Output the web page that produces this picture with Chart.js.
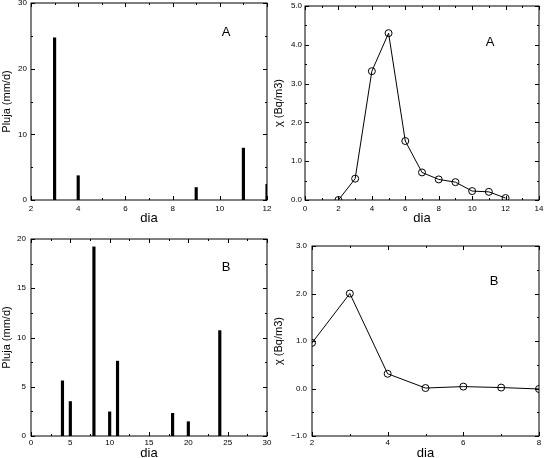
<!DOCTYPE html>
<html>
<head>
<meta charset="utf-8">
<script src="https://cdn.jsdelivr.net/npm/chart.js@4"></script>
<style>
  body { margin: 0; background: #fff; }
  .panel { position: absolute; width: 272px; height: 229px; }
</style>
</head>
<body>
<div class="panel" style="left:0;top:0"><canvas id="rainA"></canvas></div>
<div class="panel" style="left:272px;top:0"><canvas id="concA"></canvas></div>
<div class="panel" style="left:0;top:229px"><canvas id="rainB"></canvas></div>
<div class="panel" style="left:272px;top:229px"><canvas id="concB"></canvas></div>
<script>
// Series A
const rainDaysA = [3, 4, 9, 11, 12];
const rainA = [24.7, 3.7, 1.9, 7.9, 2.4];
const concDaysA = [2, 3, 4, 5, 6, 7, 8, 9, 10, 11, 12];
const concA = [0.0, 0.55, 3.32, 4.30, 1.52, 0.71, 0.53, 0.46, 0.23, 0.21, 0.05];

// Series B
const rainDaysB = [4, 5, 8, 10, 11, 18, 20, 24];
const rainB = [5.6, 3.5, 19.2, 2.45, 7.6, 2.3, 1.45, 10.7];
const concDaysB = [2, 3, 4, 5, 6, 7, 8];
const concB = [0.96, 2.0, 0.31, 0.01, 0.04, 0.02, -0.01];

const panelLabels = ['A', 'A', 'B', 'B'];

Chart.defaults.font.family = '"Liberation Sans", Arial, sans-serif';
Chart.defaults.color = '#000';
Chart.defaults.animation = false;

// inward ticks on all four sides, plus the panel letter
const frameTicks = {
  id: 'frameTicks',
  afterDraw(chart, args, opts) {
    const ctx = chart.ctx, a = chart.chartArea;
    const xs = chart.scales.x, ys = chart.scales.y;
    ctx.save();
    ctx.strokeStyle = '#000';
    ctx.lineWidth = 1;
    ctx.strokeRect(a.left, a.top, a.right - a.left, a.bottom - a.top);
    ctx.beginPath();
    for (let v = xs.min; v <= xs.max + 1e-9; v += opts.xStep / 2) {
      const p = Math.round(xs.getPixelForValue(v)) + 0.5;
      const len = Math.abs((v - xs.min) / opts.xStep % 1) < 1e-6 ? 4 : 2;
      ctx.moveTo(p, a.bottom); ctx.lineTo(p, a.bottom - len);
      ctx.moveTo(p, a.top); ctx.lineTo(p, a.top + len);
    }
    for (let v = ys.min; v <= ys.max + 1e-9; v += opts.yStep / 2) {
      const p = Math.round(ys.getPixelForValue(v)) + 0.5;
      const len = Math.abs((v - ys.min) / opts.yStep % 1) < 1e-6 ? 4 : 2;
      ctx.moveTo(a.left, p); ctx.lineTo(a.left + len, p);
      ctx.moveTo(a.right, p); ctx.lineTo(a.right - len, p);
    }
    ctx.stroke();
    ctx.font = '13px "Liberation Sans", Arial, sans-serif';
    ctx.fillStyle = '#000';
    ctx.textAlign = 'center';
    ctx.textBaseline = 'middle';
    ctx.fillText(opts.letter, opts.letterX, opts.letterY);
    ctx.restore();
  }
};

function makeChart(id, cfg) {
  const xAxis = {
    type: 'linear', min: cfg.xMin, max: cfg.xMax, offset: false,
    grid: { display: false, drawTicks: false, offset: false },
    border: { display: false },
    ticks: { stepSize: cfg.xStep, padding: cfg.xPad, maxRotation: 0,
             font: { size: 8 }, includeBounds: true },
    title: { display: true, text: 'dia', font: { size: 13 },
             padding: { top: 0, bottom: cfg.titleLift } },
    afterFit: s => { s.height = cfg.xh; s.paddingLeft = 0; s.paddingRight = 0; }
  };
  const yAxis = {
    min: cfg.yMin, max: cfg.yMax,
    grid: { display: false, drawTicks: false },
    border: { display: false },
    ticks: { stepSize: cfg.yStep, padding: cfg.yPad, font: { size: 8 },
             callback: cfg.yFmt },
    title: { display: true, text: cfg.yTitle, font: { size: 11 }, padding: 0 },
    afterFit: s => { s.width = cfg.yw; s.paddingTop = 0; s.paddingBottom = 0; }
  };
  let dataset;
  if (cfg.type === 'bar') {
    dataset = {
      data: cfg.x.map((d, i) => ({ x: d, y: cfg.y[i] })),
      backgroundColor: '#000', barThickness: 2.5
    };
  } else {
    dataset = {
      data: cfg.x.map((d, i) => ({ x: d, y: cfg.y[i] })),
      borderColor: '#000', borderWidth: 1, tension: 0,
      pointRadius: 3.5, pointBorderColor: '#000', pointBorderWidth: 1,
      pointBackgroundColor: 'rgba(255,255,255,0)'
    };
  }
  return new Chart(document.getElementById(id), {
    type: cfg.type,
    data: { datasets: [dataset] },
    options: {
      responsive: true, maintainAspectRatio: false,
      layout: { padding: cfg.pad },
      scales: { x: xAxis, y: yAxis },
      plugins: {
        legend: { display: false }, tooltip: { enabled: false },
        frameTicks: { xStep: cfg.xStep, yStep: cfg.yStep,
                      letter: cfg.letter, letterX: cfg.lx, letterY: cfg.ly }
      }
    },
    plugins: [frameTicks]
  });
}

const oneDec = v => v.toFixed(1).replace('-', '\u2212');

makeChart('rainA', {
  type: 'bar', x: rainDaysA, y: rainA,
  xMin: 2, xMax: 12, xStep: 2, yMin: 0, yMax: 30, yStep: 10,
  yTitle: 'Pluja (mm/d)', yw: 31, xh: 29, xPad: 4, yPad: 4, titleLift: 3,
  pad: { top: 3, right: 5, left: 0, bottom: 0 },
  letter: panelLabels[0], lx: 226, ly: 32
});
makeChart('concA', {
  type: 'line', x: concDaysA, y: concA,
  xMin: 0, xMax: 14, xStep: 2, yMin: 0, yMax: 5, yStep: 1, yFmt: oneDec,
  yTitle: '\u03C7 (Bq/m3)', yw: 33, xh: 29, xPad: 4, yPad: 3, titleLift: 3,
  pad: { top: 6, right: 5, left: 0, bottom: 0 },
  letter: panelLabels[1], lx: 218, ly: 42
});
makeChart('rainB', {
  type: 'bar', x: rainDaysB, y: rainB,
  xMin: 0, xMax: 30, xStep: 5, yMin: 0, yMax: 20, yStep: 5,
  yTitle: 'Pluja (mm/d)', yw: 31, xh: 22, xPad: 2, yPad: 5, titleLift: -3,
  pad: { top: 10, right: 5, left: 0, bottom: 0 },
  letter: panelLabels[2], lx: 226, ly: 38
});
makeChart('concB', {
  type: 'line', x: concDaysB, y: concB,
  xMin: 2, xMax: 8, xStep: 2, yMin: -1, yMax: 3, yStep: 1, yFmt: oneDec,
  yTitle: '\u03C7 (Bq/m3)', yw: 40, xh: 22, xPad: 2, yPad: 5, titleLift: -3,
  pad: { top: 17, right: 3, left: 0, bottom: 0 },
  letter: panelLabels[3], lx: 222, ly: 52
});
</script>
</body>
</html>
